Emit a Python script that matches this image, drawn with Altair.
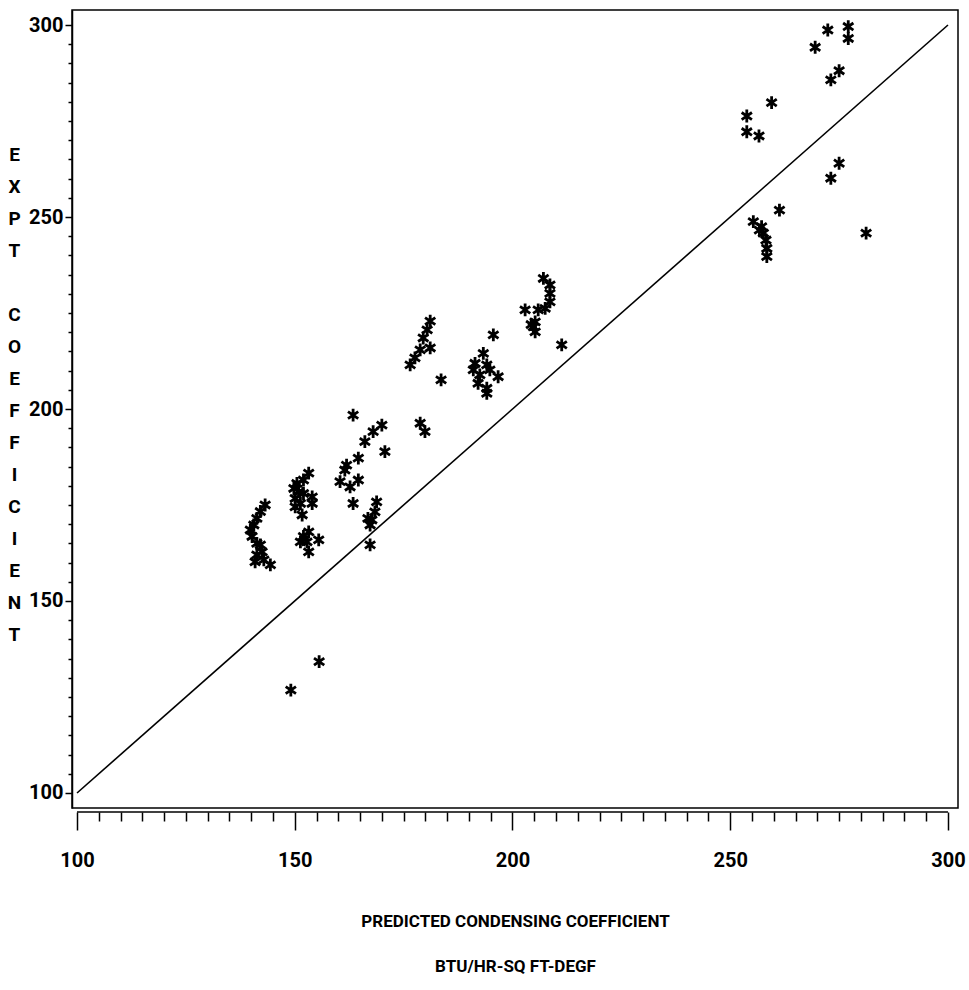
import altair as alt
import pandas as pd

# Predicted (x) vs experimental (y) condensing coefficients
pred = [
    269.5, 272.4, 277.1, 277.1, 273.1, 275.0, 273.1, 275.0, 281.2,
    259.5, 253.8, 253.8, 256.6, 261.3, 255.3, 256.7, 257.6, 258.2, 258.4, 258.4, 257.2,
    207.1, 208.6, 208.6, 208.6, 207.5, 205.9, 202.9, 205.2, 204.8, 205.2, 204.3, 211.3,
    195.6, 193.3, 191.4, 191.0, 194.1, 194.8, 192.5, 192.1, 194.1, 194.1, 196.7,
    176.5, 177.6, 178.8, 179.5, 180.4, 181.1, 181.1, 183.6, 178.8, 179.9,
    163.4, 170.0, 168.0, 166.1, 170.7, 164.6, 161.9, 161.5, 160.4, 162.7, 164.6, 163.4,
    168.8, 168.4, 167.7, 167.3, 166.8, 167.3,
    153.2, 152.0, 150.5, 149.8, 150.9, 152.0, 154.0, 150.1, 151.3, 150.1, 151.7, 154.0,
    153.2, 152.0, 152.8, 155.5, 153.2, 151.3,
    143.2, 142.1, 141.3, 140.6, 139.8, 140.2, 141.3, 142.1, 142.5, 141.3, 140.9, 142.9, 144.4,
    149.1, 155.6,
]
expt = [
    294.2, 298.7, 299.6, 296.5, 285.7, 288.1, 260.1, 264.0, 245.8,
    279.8, 276.3, 272.2, 271.1, 251.8, 248.8, 246.6, 245.8, 244.0, 241.8, 239.7, 247.5,
    234.0, 232.3, 230.1, 227.9, 226.2, 225.8, 225.8, 222.7, 221.4, 220.1, 222.0, 216.7,
    219.3, 214.5, 211.9, 210.2, 211.5, 210.2, 208.9, 206.7, 205.4, 204.1, 208.4,
    211.5, 213.3, 215.4, 218.5, 220.6, 222.9, 215.9, 207.6, 196.3, 194.1,
    198.4, 195.8, 194.1, 191.5, 188.9, 187.2, 185.4, 184.1, 181.1, 179.7, 181.5, 175.4,
    175.8, 173.2, 171.1, 169.8, 171.5, 164.6,
    183.3, 181.5, 180.6, 179.3, 178.4, 178.0, 177.1, 176.7, 175.4, 174.5, 172.4, 175.4,
    168.0, 166.8, 165.4, 165.9, 162.8, 165.4,
    175.0, 173.3, 171.5, 169.8, 168.5, 166.8, 165.0, 164.6, 162.8, 162.0, 160.2, 160.7, 159.4,
    126.8, 134.2,
]

line_x = [100, 300]
line_y = [100, 300]
major_ticks = [100, 150, 200, 250, 300]
minor_ticks = [v for v in range(100, 301, 5) if v % 50 != 0]

y_title = ["E", "X", "P", "T", "\u200b", "C", "O", "E", "F", "F", "I", "C", "I", "E", "N", "T"]
x_title = ["PREDICTED CONDENSING COEFFICIENT", "BTU/HR-SQ FT-DEGF"]

FONT = "Roboto"

pts = pd.DataFrame({"pred": pred, "expt": expt})
ln = pd.DataFrame({"pred": line_x, "expt": line_y})
base_line = pd.DataFrame({"x": [line_x[0]], "x2": [line_x[1]]})

W, H = 886, 798
xs = alt.Scale(domain=[98.85, 302.3], nice=False, zero=False)
ys = alt.Scale(domain=[96.09, 303.91], nice=False, zero=False)

ASTERISK = "M0,-1L0,1M-0.8,-0.55L0.8,0.55M-0.8,0.55L0.8,-0.55"

points = alt.Chart(pts).mark_point(
    shape=ASTERISK, size=165, filled=False, stroke="black", strokeWidth=2.8, opacity=1
).encode(
    x=alt.X("pred:Q", scale=xs, axis=alt.Axis(
        orient="bottom", values=major_ticks, tickSize=18, offset=4, domain=False,
        grid=False, labelFont=FONT, labelFontSize=20, labelFontWeight="bold",
        labelColor="black", labelPadding=20, tickColor="black", tickWidth=1.5,
        format="d", title=x_title, titleFont=FONT, titleFontSize=17,
        titleFontWeight="bold", titleColor="black", titleLineHeight=45,
        titleBaseline="top", titleY=101)),
    y=alt.Y("expt:Q", scale=ys, axis=alt.Axis(
        orient="left", values=major_ticks, tickSize=7, domain=True, domainColor="black",
        domainWidth=1.5, grid=False, labelFont=FONT, labelFontSize=20,
        labelFontWeight="bold", labelColor="black", labelPadding=2,
        tickColor="black", tickWidth=1.5, format="d", title=y_title, titleFont=FONT,
        titleFontSize=19, titleFontWeight="bold", titleColor="black",
        titleAngle=0, titleAlign="center", titleLineHeight=32, titleBaseline="top",
        titleX=-58, titleY=135)),
)

diag = alt.Chart(ln).mark_line(color="black", strokeWidth=1.6).encode(
    x=alt.X("pred:Q", scale=xs, axis=alt.Axis(
        orient="bottom", values=minor_ticks, tickSize=9, offset=4, domain=False,
        grid=False, labels=False, tickColor="black", tickWidth=1.5, title="")),
    y=alt.Y("expt:Q", scale=ys, axis=alt.Axis(
        orient="left", values=minor_ticks, tickSize=4, domain=False, grid=False,
        labels=False, tickColor="black", tickWidth=1.5, title="")),
)

axis_line = alt.Chart(base_line).mark_rule(color="black", strokeWidth=1.5).encode(
    x=alt.X("x:Q", scale=xs, axis=None),
    x2="x2:Q",
    y=alt.value(H + 4),
)

chart = alt.layer(points, diag, axis_line).resolve_axis(
    x="independent", y="independent"
).properties(
    width=W, height=H,
    padding={"left": 72, "top": 10, "right": 11, "bottom": 182},
    autosize=alt.AutoSizeParams(type="none"),
    background="white",
).configure_view(stroke="black", strokeWidth=1.5)

chart.save("out.html", embed_options={"renderer": "svg", "actions": False})
